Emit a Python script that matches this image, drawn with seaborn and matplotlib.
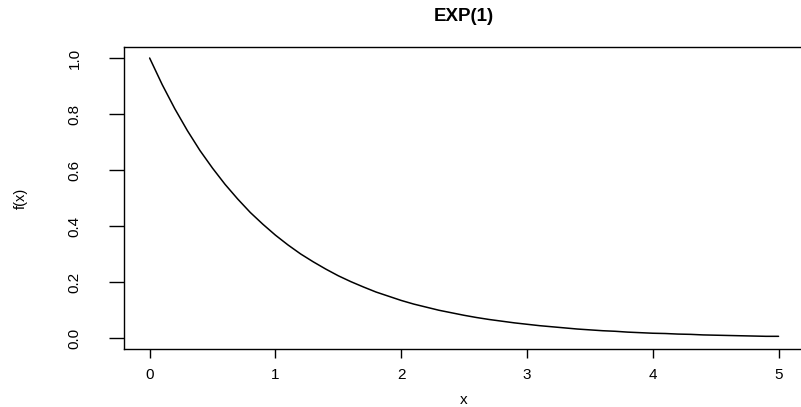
import matplotlib
matplotlib.use('Agg')
import matplotlib.pyplot as plt
import seaborn as sns

# values
x_vals = [0.0, 0.1, 0.2, 0.3, 0.4, 0.5, 0.6, 0.7, 0.8, 0.9,
          1.0, 1.1, 1.2, 1.3, 1.4, 1.5, 1.6, 1.7, 1.8, 1.9,
          2.0, 2.1, 2.2, 2.3, 2.4, 2.5, 2.6, 2.7, 2.8, 2.9,
          3.0, 3.1, 3.2, 3.3, 3.4, 3.5, 3.6, 3.7, 3.8, 3.9,
          4.0, 4.1, 4.2, 4.3, 4.4, 4.5, 4.6, 4.7, 4.8, 4.9, 5.0]
fx_vals = [1.000, 0.905, 0.819, 0.741, 0.670, 0.607, 0.549, 0.497, 0.449, 0.407,
           0.368, 0.333, 0.301, 0.273, 0.247, 0.223, 0.202, 0.183, 0.165, 0.150,
           0.135, 0.122, 0.111, 0.100, 0.091, 0.082, 0.074, 0.067, 0.061, 0.055,
           0.050, 0.045, 0.041, 0.037, 0.033, 0.030, 0.027, 0.025, 0.022, 0.020,
           0.018, 0.017, 0.015, 0.014, 0.012, 0.011, 0.010, 0.009, 0.008, 0.007, 0.007]
x_ticks = [0, 1, 2, 3, 4, 5]
y_ticks = [0.0, 0.2, 0.4, 0.6, 0.8, 1.0]
y_tick_labels = ['0.0', '0.2', '0.4', '0.6', '0.8', '1.0']

sns.set_style('ticks')
plt.rcParams['font.family'] = ['Liberation Sans', 'DejaVu Sans']
plt.rcParams['text.color'] = 'black'
plt.rcParams['axes.labelcolor'] = 'black'

fig = plt.figure(figsize=(8.01, 4.07), dpi=100)
ax = fig.add_axes([0.1554, 0.1413, 0.848, 0.7437])

sns.lineplot(x=x_vals, y=fx_vals, ax=ax, color='black', linewidth=1.1)

ax.set_xlim(-0.2, 5.2)
ax.set_ylim(-0.04, 1.04)
ax.set_xticks(x_ticks)
ax.set_yticks(y_ticks)
ax.set_yticklabels(y_tick_labels)

for s in ax.spines.values():
    s.set_visible(True)
    s.set_color('black')
    s.set_linewidth(1.0)
# right edge of the box falls outside the image in the reference
ax.spines['right'].set_visible(False)

ax.tick_params(axis='x', direction='out', length=6.5, width=1.0, pad=7,
               labelsize=11, colors='black')
ax.tick_params(axis='y', direction='out', length=10.8, width=1.0, pad=20,
               labelsize=11, colors='black')
plt.setp(ax.get_yticklabels(), rotation=90, va='center', ha='right')

ax.set_title('EXP(1)', fontweight='bold', fontsize=13.5, y=1.10, va='center', pad=0,
             color='black')
ax.set_xlabel('x', fontsize=11)
ax.xaxis.label.set_va('center')
ax.xaxis.set_label_coords(0.5, -0.168)
ax.set_ylabel('f(x)', fontsize=10.5)
ax.yaxis.set_label_coords(-0.142, 0.5)

fig.savefig('out.png', dpi=100)
